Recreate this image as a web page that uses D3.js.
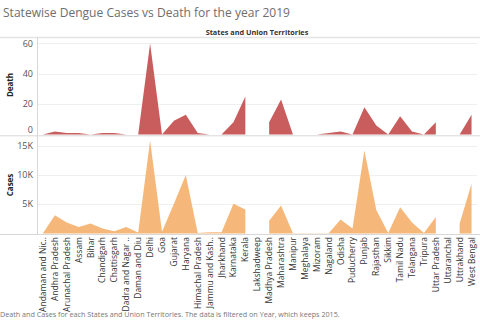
<!DOCTYPE html>
<html lang="en">
<head>
<meta charset="utf-8">
<title>Dengue cases vs death</title>
<script src="https://d3js.org/d3.v7.min.js"></script>
<style>
  body { margin: 0; background: #fff; }
  svg { display: block; font-family: "Open Sans", "Noto Sans", sans-serif; }
  .title { fill: #6e6e6e; font-size: 13.4px; }
  .header { fill: #333; font-size: 7.3px; font-weight: 700; }
  .ytick { fill: #555; font-size: 9px; }
  .ytitle { fill: #222; font-size: 8px; font-weight: 700; }
  .xlab { fill: #333; font-size: 8.5px; }
  .footer { fill: #777; font-size: 7.2px; }
  .grid { stroke: #efefef; stroke-width: 1; }
</style>
</head>
<body>
<div id="chart"></div>
<script>
  const w = 480, h = 321;

  // states / union territories, in the order shown
  const states = ["Andaman and Nic..", "Andhra Pradesh", "Arunachal Pradesh", "Assam", "Bihar",
    "Chandigarh", "Chattisgarh", "Dadra and Nagar ..", "Daman and Diu", "Delhi", "Goa", "Gujarat",
    "Haryana", "Himachal Pradesh", "Jammu and Kash..", "Jharkhand", "Karnataka", "Kerala",
    "Lakshadweep", "Madhya Pradesh", "Maharashtra", "Manipur", "Meghalaya", "Mizoram", "Nagaland",
    "Odisha", "Puducherry", "Punjab", "Rajasthan", "Sikkim", "Tamil Nadu", "Telangana", "Tripura",
    "Uttar Pradesh", "Uttaranchal", "Uttrakhand", "West Bengal"];

  // null = no data (gap in the area)
  const deaths = [0, 2, 1, 1, 0, 1, 1, 0, 0, 60, 0, 9, 13, 1, 0, 0, 8, 25,
    null, 8, 23, 0, 0, 0, 1, 2, 0, 18, 6, 0, 12, 2, 0, 8, null, 0, 13];

  const cases = [30, 3100, 1900, 1100, 1700, 850, 400, 1100, 150, 15900, 300, 5100,
    10000, 100, 200, 200, 5100, 4100, null, 2200, 4800, 30, 30, 30, 30, 2400, 850,
    14200, 4000, 100, 4500, 1900, 100, 2800, null, 1700, 8500];

  const deathTicks = [0, 20, 40, 60];
  const caseTicks = [5000, 10000, 15000];

  const svg = d3.select("#chart").append("svg")
    .attr("width", w).attr("height", h);

  const x = d3.scalePoint().domain(states).range([37, 477.5]).padding(0.5);
  const yDeath = d3.scaleLinear().domain([0, 63.6]).range([134.5, 38]);
  const yCases = d3.scaleLinear().domain([0, 16500]).range([233.5, 137]);

  // title + column header
  svg.append("text").attr("class", "title").attr("x", 3).attr("y", 17)
    .attr("textLength", 287).attr("lengthAdjust", "spacingAndGlyphs")
    .text("Statewise Dengue Cases vs Death for the year 2019");
  svg.append("text").attr("class", "header").attr("x", 257).attr("y", 35)
    .attr("text-anchor", "middle").text("States and Union Territories");

  // gridlines
  svg.selectAll(".gd").data(deathTicks.slice(1)).enter().append("line")
    .attr("class", "grid").attr("x1", 38).attr("x2", 477)
    .attr("y1", d => Math.round(yDeath(d)) + 0.5).attr("y2", d => Math.round(yDeath(d)) + 0.5);
  svg.selectAll(".gc").data(caseTicks).enter().append("line")
    .attr("class", "grid").attr("x1", 38).attr("x2", 477)
    .attr("y1", d => Math.round(yCases(d)) + 0.5).attr("y2", d => Math.round(yCases(d)) + 0.5);

  // areas
  const deathArea = d3.area()
    .defined(d => d.v != null)
    .x(d => x(d.s)).y0(yDeath(0)).y1(d => yDeath(d.v));
  const caseArea = d3.area()
    .defined(d => d.v != null)
    .x(d => x(d.s)).y0(yCases(0)).y1(d => yCases(d.v));

  svg.append("path")
    .datum(states.map((s, i) => ({ s: s, v: deaths[i] })))
    .attr("d", deathArea).attr("fill", "#c95d5d");
  svg.append("path")
    .datum(states.map((s, i) => ({ s: s, v: cases[i] })))
    .attr("fill", "#f6b87a").attr("d", caseArea);

  // frame lines
  svg.append("line").attr("x1", 0).attr("x2", 480).attr("y1", 37.5).attr("y2", 37.5)
    .attr("stroke", "#e4e4e4").attr("stroke-width", 1.5);
  svg.append("line").attr("x1", 0).attr("x2", 480).attr("y1", 135.8).attr("y2", 135.8)
    .attr("stroke", "#d8d8d8").attr("stroke-width", 1);
  svg.append("line").attr("x1", 0).attr("x2", 480).attr("y1", 234.5).attr("y2", 234.5)
    .attr("stroke", "#d8d8d8").attr("stroke-width", 1);
  svg.append("line").attr("x1", 37.5).attr("x2", 37.5).attr("y1", 37).attr("y2", 235)
    .attr("stroke", "#d8d8d8").attr("stroke-width", 1);

  // y tick labels
  svg.selectAll(".td").data(deathTicks).enter().append("text")
    .attr("class", "ytick").attr("text-anchor", "end").attr("x", 33)
    .attr("y", d => (d === 0 ? yDeath(d) - 4.5 : yDeath(d)))
    .attr("dy", "0.35em").text(d => d);
  svg.selectAll(".tc").data(caseTicks).enter().append("text")
    .attr("class", "ytick").attr("text-anchor", "end").attr("x", 33)
    .attr("y", d => yCases(d)).attr("dy", "0.35em").text(d => d3.format("~s")(d).replace("k", "K"));

  // axis titles
  svg.append("text").attr("class", "ytitle").attr("text-anchor", "middle")
    .attr("transform", "translate(13,85) rotate(-90)").text("Death");
  svg.append("text").attr("class", "ytitle").attr("text-anchor", "middle")
    .attr("transform", "translate(13,185) rotate(-90)").text("Cases");

  // x labels (rotated)
  svg.selectAll(".xlab").data(states).enter().append("text")
    .attr("class", "xlab").attr("text-anchor", "end")
    .attr("transform", d => `translate(${x(d) + 3},237) rotate(-90)`)
    .text(d => d);

  // footer
  svg.append("text").attr("class", "footer").attr("x", 0).attr("y", 317)
    .text("Death and Cases for each States and Union Territories. The data is filtered on Year, which keeps 2015.");
</script>
</body>
</html>
